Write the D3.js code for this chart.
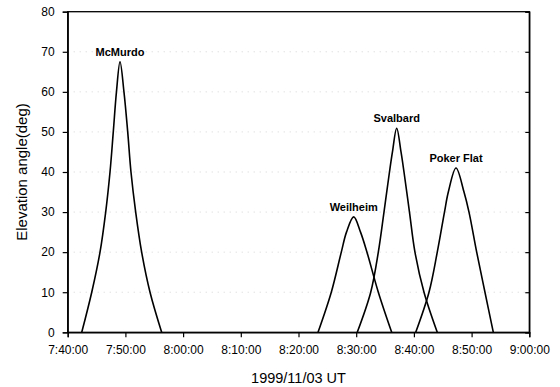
<!DOCTYPE html>
<html>
<head>
<meta charset="utf-8">
<script src="https://cdn.jsdelivr.net/npm/d3@7"></script>
<style>
  body { margin: 0; background: #fff; }
  svg { display: block; font-family: Arial, "Liberation Sans", sans-serif; }
</style>
</head>
<body>
<svg id="chart" width="560" height="387"></svg>
<script>
// elevation of each station (time UT, deg)
const mcmurdoTime = ['7:42:26', '7:44:10', '7:45:36', '7:46:35', '7:47:20', '7:47:54', '7:48:27', '7:49:04',
    '7:49:45', '7:50:24', '7:50:58', '7:51:47', '7:52:49', '7:54:16', '7:56:17'];
const mcmurdoElev = [0, 10, 20, 30, 40, 50, 60, 67.5, 60, 50, 40, 30, 20, 10, 0];

const weilheimTime = ['8:23:23', '8:25:41', '8:27:25', '8:28:19', '8:29:34', '8:30:45', '8:31:52', '8:33:50',
    '8:36:09'];
const weilheimElev = [0, 10, 20, 25, 28.8, 25, 20, 10, 0];

const svalbardTime = ['8:30:11', '8:32:31', '8:33:50', '8:34:49', '8:35:46', '8:36:17', '8:37:01', '8:37:46',
    '8:38:17', '8:39:14', '8:40:11', '8:41:45', '8:44:03'];
const svalbardElev = [0, 10, 20, 30, 40, 45, 50.9, 45, 40, 30, 20, 10, 0];

const pokerTime = ['8:40:19', '8:42:37', '8:44:03', '8:45:18', '8:45:58', '8:47:18', '8:48:41', '8:49:33',
    '8:50:53', '8:52:19', '8:53:46'];
const pokerElev = [0, 10, 20, 30, 35, 41, 35, 30, 20, 10, 0];

const stations = ['McMurdo', 'Weilheim', 'Svalbard', 'Poker Flat'];
const yTicks = [0, 10, 20, 30, 40, 50, 60, 70, 80];
const xStart = '7:40:00', xEnd = '9:00:00';

const parseTime = d3.timeParse('%H:%M:%S');
const fmt = d3.timeFormat('%-H:%M:%S');

const margin = { left: 67.7, right: 30.7, top: 11.7, bottom: 54.7 };
const W = 560, H = 387;
const w = W - margin.left - margin.right, h = H - margin.top - margin.bottom;

const svg = d3.select('#chart');
const g = svg.append('g').attr('transform', 'translate(' + margin.left + ',' + margin.top + ')');

const x = d3.scaleTime().domain([parseTime(xStart), parseTime(xEnd)]).range([0, w]);
const y = d3.scaleLinear().domain([0, 80]).range([h, 0]);

// faint dotted grid (barely visible in the scan)
g.selectAll('.grid')
    .data(yTicks.filter(v => v > 0 && v < 80))
    .enter()
    .append('line')
    .attr('x1', 0).attr('x2', w)
    .attr('y1', d => y(d)).attr('y2', d => y(d))
    .attr('stroke', '#d4d4d4')
    .attr('stroke-width', 1)
    .attr('stroke-dasharray', '1,5');

// frame
g.append('rect')
    .attr('width', w).attr('height', h)
    .attr('fill', 'none').attr('stroke', '#000').attr('stroke-width', 1.3);

const xAxis = g.append('g')
    .attr('transform', 'translate(0,' + h + ')')
    .call(d3.axisBottom(x).ticks(d3.timeMinute.every(10)).tickFormat(fmt).tickSize(5).tickPadding(8));
const yAxis = g.append('g')
    .call(d3.axisLeft(y).tickValues(yTicks).tickSize(5).tickPadding(8));
const yRight = g.append('g')
    .attr('transform', 'translate(' + w + ',0)')
    .call(d3.axisLeft(y).tickValues(yTicks).tickSize(4).tickFormat(''));

[xAxis, yAxis, yRight].forEach(a => {
    a.select('.domain').attr('stroke-width', 1.3);
    a.selectAll('.tick line').attr('stroke-width', 1.2);
    a.selectAll('text').attr('font-size', 12).attr('font-family', 'Arial, "Liberation Sans", sans-serif')
        .attr('fill', '#000');
});

const series = [
    { name: stations[0], t: mcmurdoTime, v: mcmurdoElev },
    { name: stations[1], t: weilheimTime, v: weilheimElev },
    { name: stations[2], t: svalbardTime, v: svalbardElev },
    { name: stations[3], t: pokerTime, v: pokerElev }
];

const line = d3.line()
    .x(d => x(d.time))
    .y(d => y(d.elev))
    .curve(d3.curveCatmullRom.alpha(0.5));

series.forEach(s => {
    const pts = s.t.map((t, i) => ({ time: parseTime(t), elev: s.v[i] }));
    g.append('path')
        .datum(pts)
        .attr('d', line)
        .attr('fill', 'none')
        .attr('stroke', '#000')
        .attr('stroke-width', 1.6);
    const peak = pts.reduce((a, b) => (b.elev > a.elev ? b : a));
    g.append('text')
        .attr('x', x(peak.time))
        .attr('y', y(peak.elev) - 6)
        .attr('text-anchor', 'middle')
        .attr('font-size', 11)
        .attr('font-weight', 'bold')
        .text(s.name);
});

// axis titles
svg.append('text')
    .attr('transform', 'translate(27,' + (margin.top + h / 2) + ') rotate(-90)')
    .attr('text-anchor', 'middle')
    .attr('font-size', 15)
    .text('Elevation angle(deg)');

svg.append('text')
    .attr('x', margin.left + w / 2)
    .attr('y', 383)
    .attr('text-anchor', 'middle')
    .attr('font-size', 14.5)
    .text('1999/11/03 UT');
</script>
</body>
</html>
